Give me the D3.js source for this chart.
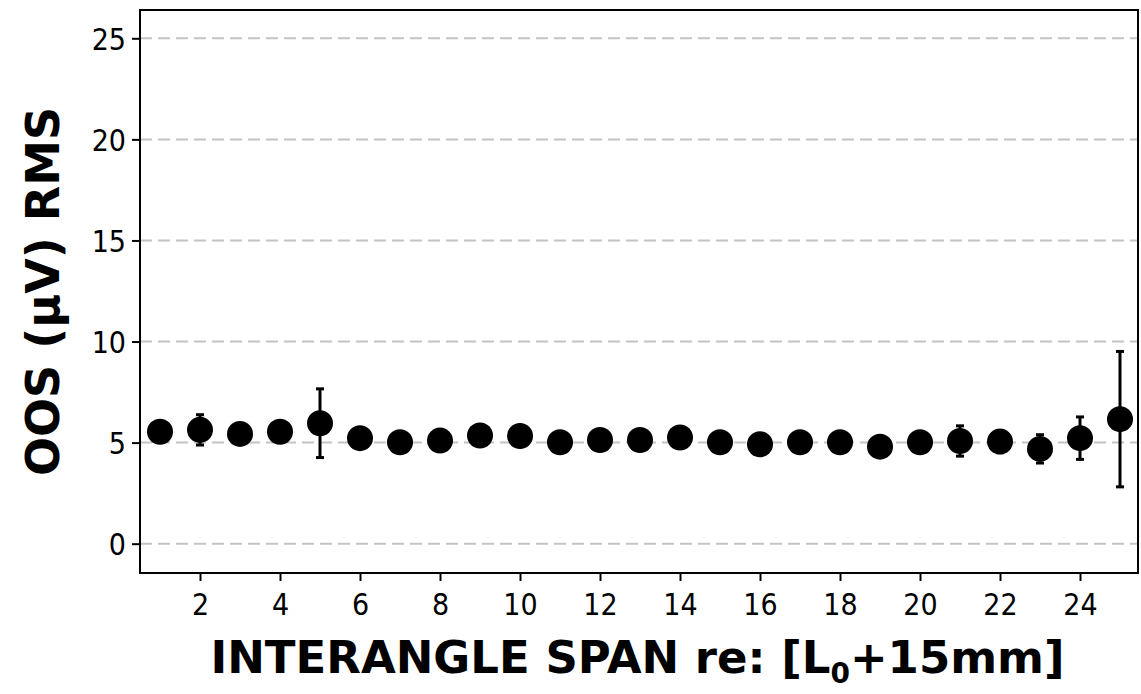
<!DOCTYPE html>
<html>
<head>
<meta charset="utf-8">
<script src="https://cdn.jsdelivr.net/npm/d3@7"></script>
<style>
  body { margin: 0; background: #fff; }
  text { font-family: "DejaVu Sans Condensed", "DejaVu Sans", sans-serif; font-stretch: condensed; }
  text.title { font-family: "DejaVu Sans", sans-serif; font-stretch: normal; }
</style>
</head>
<body>
<svg id="vimage" width="1141" height="694"></svg>
<script>
// ---------------- data ----------------
var spans = [1, 2, 3, 4, 5, 6, 7, 8, 9, 10, 11, 12, 13, 14, 15, 16, 17, 18, 19, 20, 21, 22, 23, 24, 25];
var oosRms = [5.54, 5.63, 5.43, 5.54, 5.96, 5.22, 5.02, 5.10, 5.35, 5.33, 5.02, 5.13, 5.13, 5.25, 5.02,
              4.92, 5.02, 5.02, 4.80, 5.02, 5.08, 5.05, 4.69, 5.22, 6.16];
var oosErr = [0.3, 0.75, 0.3, 0.3, 1.7, 0.3, 0.3, 0.3, 0.3, 0.3, 0.3, 0.3, 0.3, 0.3, 0.3,
              0.3, 0.3, 0.3, 0.3, 0.3, 0.75, 0.55, 0.7, 1.05, 3.35];
var xTicks = [2, 4, 6, 8, 10, 12, 14, 16, 18, 20, 22, 24];
var yTicks = [0, 5, 10, 15, 20, 25];

// ---------------- layout ----------------
var plotLeft = 140, plotRight = 1138, plotTop = 10, plotBottom = 573;

var svg = d3.select("#vimage");

var x = d3.scaleLinear().domain([0.5, 25.45]).range([plotLeft, plotRight]);
var y = d3.scaleLinear().domain([-1.45, 26.4]).range([plotBottom, plotTop]);

// grid lines
svg.append("g")
    .selectAll("line")
    .data(yTicks)
    .enter().append("line")
    .attr("x1", plotLeft)
    .attr("x2", plotRight)
    .attr("y1", function(d) { return y(d); })
    .attr("y2", function(d) { return y(d); })
    .style("stroke", "#c4c4c4")
    .style("stroke-width", 2)
    .style("stroke-dasharray", "12,6");

// y axis
var yAxis = svg.append("g")
    .attr("transform", "translate(" + plotLeft + ",0)")
    .call(d3.axisLeft(y).tickValues(yTicks).tickSize(8).tickPadding(6));

// x axis
var xAxis = svg.append("g")
    .attr("transform", "translate(0," + plotBottom + ")")
    .call(d3.axisBottom(x).tickValues(xTicks).tickSize(8).tickPadding(7));

[yAxis, xAxis].forEach(function(a) {
    a.select(".domain").remove();
    a.selectAll(".tick line").style("stroke", "#000").style("stroke-width", 2);
    a.selectAll(".tick text").style("font-size", "30px").style("fill", "#000");
});
yAxis.selectAll(".tick text").attr("dy", "0.36em");
xAxis.selectAll(".tick text").attr("dy", "0.9em");

// frame
svg.append("rect")
    .attr("x", plotLeft)
    .attr("y", plotTop)
    .attr("width", plotRight - plotLeft)
    .attr("height", plotBottom - plotTop)
    .style("fill", "none")
    .style("stroke", "#000")
    .style("stroke-width", 2);

// error bars
var pts = spans.map(function(s, i) { return {span: s, val: oosRms[i], err: oosErr[i]}; });

var bars = svg.append("g").selectAll("g")
    .data(pts)
    .enter().append("g");

bars.append("line")
    .attr("x1", function(d) { return x(d.span); })
    .attr("x2", function(d) { return x(d.span); })
    .attr("y1", function(d) { return y(d.val - d.err); })
    .attr("y2", function(d) { return y(d.val + d.err); })
    .style("stroke", "#000")
    .style("stroke-width", 3);

bars.selectAll(".cap")
    .data(function(d) { return [{span: d.span, v: d.val - d.err}, {span: d.span, v: d.val + d.err}]; })
    .enter().append("line")
    .attr("class", "cap")
    .attr("x1", function(d) { return x(d.span) - 4; })
    .attr("x2", function(d) { return x(d.span) + 4; })
    .attr("y1", function(d) { return y(d.v); })
    .attr("y2", function(d) { return y(d.v); })
    .style("stroke", "#000")
    .style("stroke-width", 3);

// points
svg.append("g").selectAll("circle")
    .data(pts)
    .enter().append("circle")
    .attr("cx", function(d) { return x(d.span); })
    .attr("cy", function(d) { return y(d.val); })
    .attr("r", 13)
    .style("fill", "#000");

// axis titles
var xTitle = svg.append("text")
    .attr("class", "title")
    .attr("x", (212 + 1063) / 2)
    .attr("y", 673)
    .attr("text-anchor", "middle")
    .style("font-size", "45px")
    .style("font-weight", "bold")
    .style("fill", "#000");
xTitle.append("tspan").text("INTERANGLE SPAN re: [L");
xTitle.append("tspan").attr("dy", 10).style("font-size", "28px").text("0");
xTitle.append("tspan").attr("dy", -10).text("+15mm]");

svg.append("text")
    .attr("class", "title")
    .attr("transform", "translate(59," + ((plotTop + plotBottom) / 2) + ") rotate(-90)")
    .attr("text-anchor", "middle")
    .style("font-size", "46px")
    .style("font-weight", "bold")
    .style("fill", "#000")
    .text("OOS (μV) RMS");
</script>
</body>
</html>
